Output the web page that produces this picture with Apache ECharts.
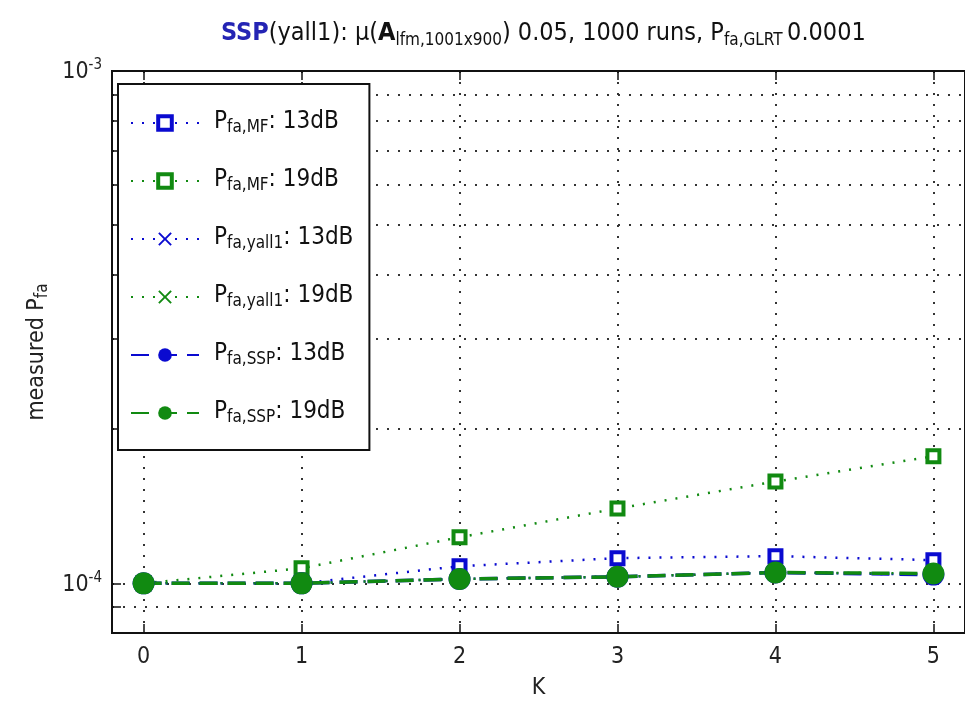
<!DOCTYPE html>
<html>
<head>
<meta charset="utf-8">
<script src="https://cdn.jsdelivr.net/npm/echarts@6/dist/echarts.min.js"></script>
<style>
html,body{margin:0;padding:0;background:#fff}
#chart{width:965px;height:708px}
</style>
</head>
<body>
<div id="chart"></div>
<script>
// K values and measured Pfa per series
const kVals = [0, 1, 2, 3, 4, 5];
const mf13 = [1.0e-4, 1.0e-4, 1.08e-4, 1.12e-4, 1.13e-4, 1.11e-4];
const mf19 = [1.0e-4, 1.07e-4, 1.23e-4, 1.40e-4, 1.58e-4, 1.77e-4];
const yall13 = [1.0e-4, 1.0e-4, 1.02e-4, 1.03e-4, 1.05e-4, 1.04e-4];
const yall19 = [1.0e-4, 1.0e-4, 1.02e-4, 1.03e-4, 1.05e-4, 1.045e-4];
const ssp13 = [1.0e-4, 1.0e-4, 1.02e-4, 1.03e-4, 1.05e-4, 1.04e-4];
const ssp19 = [1.0e-4, 1.0e-4, 1.02e-4, 1.03e-4, 1.05e-4, 1.045e-4];

const xTicks = [0, 1, 2, 3, 4, 5];
const yTicks = [9e-5, 1e-4, 2e-4, 3e-4, 4e-4, 5e-4, 6e-4, 7e-4, 8e-4, 9e-4, 1e-3];
const yLabels = { '0.0001': '-4', '0.001': '-3' };

const BLUE = '#0a0ad0';
const GREEN = '#118a11';
const FONT = "'Liberation Sans Narrow', 'DejaVu Sans Condensed', 'Liberation Sans', sans-serif";
const CROSS = 'path://M1,0 L5,4 L9,0 L10,1 L6,5 L10,9 L9,10 L5,6 L1,10 L0,9 L4,5 L0,1 Z';

const legendText = {
  mf13: ['fa,MF', '13dB'],
  mf19: ['fa,MF', '19dB'],
  yall13: ['fa,yall1', '13dB'],
  yall19: ['fa,yall1', '19dB'],
  ssp13: ['fa,SSP', '13dB'],
  ssp19: ['fa,SSP', '19dB']
};

function pairs(arr) {
  return arr.map((v, i) => [kVals[i], v]);
}

const gridStyle = { show: true, lineStyle: { color: '#333', width: 2, type: [2, 9] } };

function mkSeries(name, data, color, kind) {
  let s = {
    name: name,
    type: 'line',
    data: pairs(data),
    color: color,
    z: 3
  };
  if (kind === 'sq') {
    s.symbol = 'rect';
    s.symbolSize = 12;
    s.itemStyle = { color: '#fff', borderColor: color, borderWidth: 4 };
    s.lineStyle = { color: color, width: 2.5, type: [2, 9] };
  } else if (kind === 'x') {
    s.symbol = CROSS;
    s.symbolSize = 14;
    s.itemStyle = { color: color };
    s.lineStyle = { color: color, width: 2.5, type: [2, 9] };
  } else {
    s.symbol = 'circle';
    s.symbolSize = 22;
    s.itemStyle = { color: color };
    s.lineStyle = { color: color, width: 3.5, type: [18, 10] };
    s.z = 4;
  }
  return s;
}

const chart = echarts.init(document.getElementById('chart'));

const txt = (size, extra) => Object.assign({ fontSize: size, color: '#111', fontFamily: FONT, fontWeight: 'normal' }, extra || {});

chart.setOption({
  backgroundColor: '#fff',
  animation: false,
  textStyle: { fontFamily: FONT },
  title: {
    left: 216,
    top: 16,
    text: '{ssp|SSP}{n|(yall1): \u03bc(}{b|A}{s|lfm,1001x900}{n|) 0.05, 1000 runs, P}{s|fa,GLRT}{n|\u20090.0001}',
    textStyle: {
      fontFamily: FONT,
      fontWeight: 'normal',
      rich: {
        ssp: txt(25, { fontWeight: 'bold', color: '#2424b4', verticalAlign: 'top', lineHeight: 28 }),
        n: txt(25, { verticalAlign: 'top', lineHeight: 28 }),
        b: txt(25, { fontWeight: 'bold', verticalAlign: 'top', lineHeight: 28 }),
        s: txt(17, { verticalAlign: 'bottom', lineHeight: 18, padding: [21, 0, 0, 0] })
      }
    }
  },
  grid: {
    left: 112,
    top: 71,
    width: 855,
    height: 562,
    show: true,
    borderColor: '#111',
    borderWidth: 2,
    backgroundColor: '#fff'
  },
  legend: {
    left: 118,
    top: 84,
    orient: 'vertical',
    backgroundColor: '#fff',
    borderColor: '#111',
    borderWidth: 2,
    borderRadius: 0,
    padding: [13, 16, 24, 12],
    itemGap: 19,
    itemWidth: 68,
    itemHeight: 17,
    itemStyle: { borderWidth: 4 },
    data: ['mf13', 'mf19', 'yall13', 'yall19', 'ssp13', 'ssp19'],
    formatter: function (name) {
      let t = legendText[name];
      return '{p|P}{s|' + t[0] + '}{t|: ' + t[1] + '}';
    },
    textStyle: {
      rich: {
        p: txt(24, { verticalAlign: 'top', lineHeight: 26, padding: [0, 0, 0, 10] }),
        s: txt(17, { verticalAlign: 'bottom', lineHeight: 18, padding: [22, 0, 0, 0] }),
        t: txt(24, { verticalAlign: 'top', lineHeight: 26 })
      }
    }
  },
  xAxis: [
    {
      type: 'value',
      position: 'bottom',
      min: -0.2,
      max: 5.2,
      name: 'K',
      nameLocation: 'middle',
      nameGap: 44,
      nameTextStyle: txt(23, { color: '#222' }),
      axisLine: { show: true, onZero: false, lineStyle: { color: '#111', width: 2 } },
      axisTick: { show: true, inside: true, length: 9, customValues: xTicks, lineStyle: { color: '#111', width: 1.5 } },
      axisLabel: { customValues: xTicks, fontSize: 23, color: '#222', margin: 13, fontFamily: FONT },
      splitLine: gridStyle
    },
    {
      type: 'value',
      position: 'top',
      min: -0.2,
      max: 5.2,
      axisLine: { show: true, onZero: false, lineStyle: { color: '#111', width: 2 } },
      axisTick: { show: true, inside: true, length: 9, customValues: xTicks, lineStyle: { color: '#111', width: 1.5 } },
      axisLabel: { show: false },
      splitLine: { show: false }
    }
  ],
  yAxis: {
    type: 'log',
    logBase: 10,
    min: 8e-5,
    max: 1e-3,
    name: '{m|measured P}{s|fa}',
    nameLocation: 'middle',
    nameRotate: 90,
    nameGap: 49,
    nameTextStyle: {
      rich: {
        m: txt(23, { color: '#222', verticalAlign: 'top', lineHeight: 26 }),
        s: txt(17, { color: '#222', verticalAlign: 'bottom', lineHeight: 17, padding: [18, 0, 0, 0] })
      }
    },
    axisLine: { show: true, onZero: false, lineStyle: { color: '#111', width: 2 } },
    axisTick: { show: true, inside: true, length: 9, customValues: yTicks, lineStyle: { color: '#111', width: 1.5 } },
    axisLabel: {
      customValues: yTicks,
      margin: 10,
      formatter: function (v) {
        let e = yLabels[String(+v.toPrecision(3))];
        return e ? '{b|10}{e|' + e + '}' : '';
      },
      rich: {
        b: txt(23, { color: '#222', verticalAlign: 'bottom', lineHeight: 26, padding: [14, 0, 0, 0] }),
        e: txt(15, { color: '#222', verticalAlign: 'top', lineHeight: 16 })
      }
    },
    splitLine: gridStyle,
    minorSplitLine: { show: false }
  },
  series: [
    mkSeries('mf13', mf13, BLUE, 'sq'),
    mkSeries('mf19', mf19, GREEN, 'sq'),
    mkSeries('yall13', yall13, BLUE, 'x'),
    mkSeries('yall19', yall19, GREEN, 'x'),
    mkSeries('ssp13', ssp13, BLUE, 'o'),
    mkSeries('ssp19', ssp19, GREEN, 'o')
  ]
});
</script>
</body>
</html>
